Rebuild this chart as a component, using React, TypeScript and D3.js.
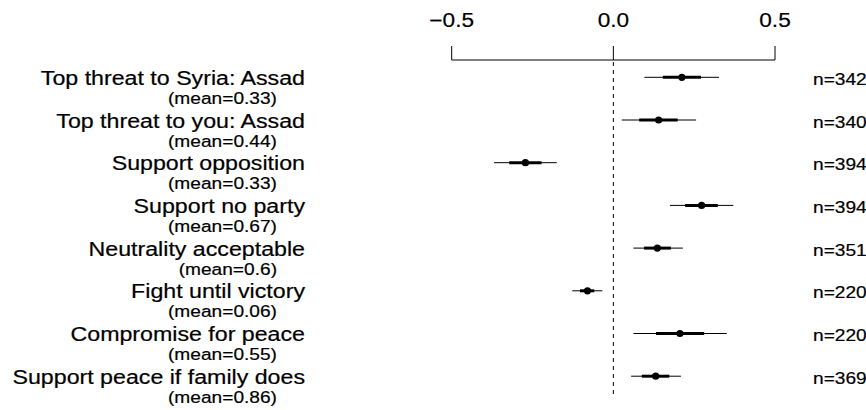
import React from "react";
import * as d3 from "d3";

// Coefficient plot: point estimate with inner (±1 SE) and outer (±2 SE) intervals
const outcomes = [
  "Top threat to Syria: Assad",
  "Top threat to you: Assad",
  "Support opposition",
  "Support no party",
  "Neutrality acceptable",
  "Fight until victory",
  "Compromise for peace",
  "Support peace if family does",
];
const meanLabels = ["0.33", "0.44", "0.33", "0.67", "0.6", "0.06", "0.55", "0.86"];
const sampleSizes = [342, 340, 394, 394, 351, 220, 220, 369];
const estimates = [0.212, 0.14, -0.272, 0.273, 0.136, -0.08, 0.206, 0.131];
const innerLo = [0.153, 0.08, -0.322, 0.222, 0.095, -0.103, 0.132, 0.088];
const innerHi = [0.271, 0.199, -0.222, 0.323, 0.178, -0.059, 0.281, 0.173];
const outerLo = [0.096, 0.026, -0.369, 0.175, 0.062, -0.127, 0.062, 0.055];
const outerHi = [0.327, 0.256, -0.175, 0.371, 0.215, -0.034, 0.351, 0.209];
const tickValues = [-0.5, 0, 0.5];

const W = 866;
const H = 410;
const FONT = "'Liberation Sans', Arial, Helvetica, sans-serif";
const SX = 1.16; // horizontal glyph stretch

function StretchText(props: {
  x: number;
  y: number;
  size: number;
  anchor: "start" | "middle" | "end";
  children: React.ReactNode;
}) {
  return (
    <text
      transform={`translate(${props.x},${props.y}) scale(${SX},1)`}
      fontSize={props.size}
      fontFamily={FONT}
      textAnchor={props.anchor}
      fill="#000"
      stroke="#000"
      strokeWidth={0.2}
    >
      {props.children}
    </text>
  );
}

export default function App() {
  const x = d3.scaleLinear().domain([-0.5, 0.5]).range([451.7, 775]);
  const y = d3.scalePoint<string>().domain(outcomes).range([77.3, 376.2]);
  const axisY = 60;
  const fmt = (v: number) => d3.format(".1f")(v).replace("-", "\u2212");

  return (
    <svg
      width={W}
      height={H}
      viewBox={`0 0 ${W} ${H}`}
      style={{ position: "absolute", left: 0, top: 0, background: "#fff" }}
    >
      {/* top axis */}
      <line x1={x(-0.5)} x2={x(0.5)} y1={axisY} y2={axisY} stroke="#000" strokeWidth={1} />
      {tickValues.map((t) => (
        <g key={t}>
          <line x1={x(t)} x2={x(t)} y1={axisY} y2={axisY - 14} stroke="#000" strokeWidth={1} />
          <StretchText x={x(t)} y={26.7} size={19.5} anchor="middle">
            {fmt(t)}
          </StretchText>
        </g>
      ))}

      {/* zero reference */}
      <line
        x1={x(0)}
        x2={x(0)}
        y1={axisY + 2}
        y2={396}
        stroke="#000"
        strokeWidth={1}
        strokeDasharray="4,4"
      />

      {outcomes.map((o, i) => {
        const cy = y(o)!;
        return (
          <g key={o}>
            <line x1={x(outerLo[i])} x2={x(outerHi[i])} y1={cy} y2={cy} stroke="#000" strokeWidth={1} />
            <line x1={x(innerLo[i])} x2={x(innerHi[i])} y1={cy} y2={cy} stroke="#000" strokeWidth={3} />
            <circle cx={x(estimates[i])} cy={cy} r={3.6} fill="#000" />
            <StretchText x={305} y={cy + 7.5} size={20} anchor="end">
              {o}
            </StretchText>
            <StretchText x={277} y={cy + 26.5} size={16.5} anchor="end">
              {`(mean=${meanLabels[i]})`}
            </StretchText>
            <StretchText x={813} y={cy + 7.5} size={16.5} anchor="start">
              {`n=${sampleSizes[i]}`}
            </StretchText>
          </g>
        );
      })}
    </svg>
  );
}
